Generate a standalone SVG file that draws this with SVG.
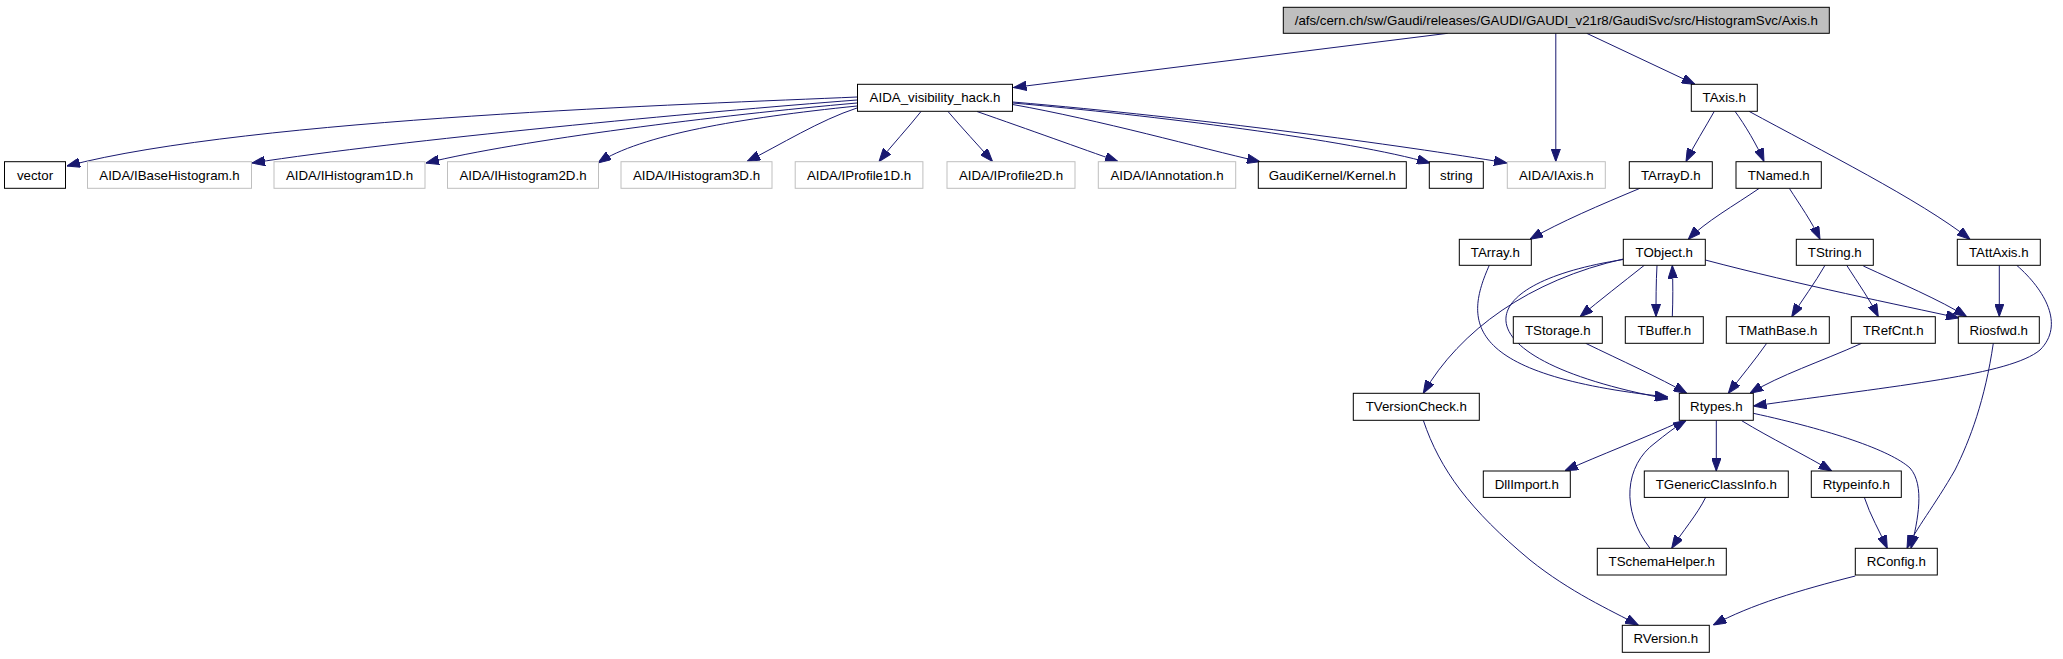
<svg xmlns="http://www.w3.org/2000/svg" width="2063" height="659" viewBox="0 0 2063 659">
<style>
  rect{fill:#ffffff;stroke:#000000;stroke-width:1}
  .u rect{stroke:#bfbfbf}
  .root rect{fill:#bfbfbf}
  text{font-family:"Liberation Sans",Arial,sans-serif;font-size:13.3px;fill:#000000;text-anchor:middle}
  #edges path{fill:none;stroke:#191970;stroke-width:1;marker-end:url(#ah)}
</style>
<defs>
  <marker id="ah" markerUnits="userSpaceOnUse" markerWidth="13" markerHeight="9.5" viewBox="0 0 13 9.5" refX="13" refY="4.75" orient="auto">
    <path d="M0,0 L13,4.75 L0,9.5 z" fill="#191970" stroke="#191970" stroke-width="1"/>
  </marker>
</defs>
<rect x="0" y="0" width="2063" height="659" style="fill:#ffffff;stroke:none"/>
<g id="edges">
  <path d="M1447.7,33.3 L1013.5,87.5"/>
  <path d="M1555.8,33.3 L1555.8,161.5"/>
  <path d="M1586.7,33.3 L1695,84.3"/>
  <path d="M857,97 C700,104 250,118 67,166"/>
  <path d="M857,100 C700,112 400,140 252,163"/>
  <path d="M857,103 C720,115 520,140 426,163"/>
  <path d="M857,106 C740,118 640,135 598,163"/>
  <path d="M857,108 C820,120 780,145 747,161.5"/>
  <path d="M921,111.5 C908,128 892,145 879,161.5"/>
  <path d="M948,111.5 C962,128 978,145 992.5,161.5"/>
  <path d="M977,111.5 C1030,130 1080,148 1118,161.5"/>
  <path d="M1012.7,104.5 C1100,120 1200,148 1260,161.7"/>
  <path d="M1012.7,103 C1150,115 1350,140 1430,163"/>
  <path d="M1012.7,102 C1200,118 1400,145 1507,163"/>
  <path d="M1714.3,111.3 C1705,128 1694,145 1686,161.5"/>
  <path d="M1735,111.3 C1745,125 1757,145 1764,161.5"/>
  <path d="M1749,111.3 C1820,150 1920,200 1970,239.3"/>
  <path d="M1640,188.3 C1600,205 1560,222 1530,239.3"/>
  <path d="M1759.3,188.3 C1735,205 1705,222 1688.3,239.3"/>
  <path d="M1789.3,188.3 C1800,205 1812,222 1820,239.3"/>
  <path d="M1644.3,265.3 C1622,283 1600,300 1580,316.7"/>
  <path d="M1657,265.3 C1656,283 1656,300 1656,316.5"/>
  <path d="M1672.3,316.7 C1673,300 1673,283 1672.3,265.5"/>
  <path d="M1705.3,260 C1800,285 1900,305 1959,318"/>
  <path d="M1623.3,259 C1530,280 1460,330 1423.3,393.3"/>
  <path d="M1623.3,259.5 C1460,285 1460,360 1668,399"/>
  <path d="M1489.3,265.3 C1465,320 1460,375 1668,397"/>
  <path d="M1825,265.3 C1815,283 1802,300 1791.7,316.7"/>
  <path d="M1846.7,265.3 C1858,283 1870,300 1878.3,316.7"/>
  <path d="M1863.3,266 C1900,283 1940,300 1966.7,316.7"/>
  <path d="M1999.3,265.3 L1999.3,316.5"/>
  <path d="M2016.7,265.3 C2045,290 2065,325 2040,350 C2010,375 1900,385 1753.5,406"/>
  <path d="M1585.7,343.3 C1620,360 1660,378 1686.7,393.3"/>
  <path d="M1766.7,343.3 C1755,360 1740,378 1728.3,393.3"/>
  <path d="M1861.7,343.3 C1820,362 1780,375 1750,393.3"/>
  <path d="M1993.3,343.3 C1985,400 1970,440 1955,470 C1935,505 1915,530 1907,548.3"/>
  <path d="M1753.3,413.3 C1830,430 1890,450 1910,468 C1925,485 1918,520 1911,548.3"/>
  <path d="M1864.3,497.3 C1870,515 1880,532 1887.3,548.3"/>
  <path d="M1741.7,420.7 C1770,438 1805,455 1831.7,471"/>
  <path d="M1716.3,420.3 L1716.3,471"/>
  <path d="M1683.3,420.3 C1640,440 1600,455 1565,470.7"/>
  <path d="M1650,548.3 C1620,510 1625,465 1655,443 C1665,435 1675,427 1686,420.5"/>
  <path d="M1705.7,497.3 C1697,515 1682,532 1671.7,548.3"/>
  <path d="M1423.3,420.3 C1440,470 1470,510 1530,560 C1570,592 1610,610 1638.3,625"/>
  <path d="M1855.3,576 C1800,590 1750,605 1713.3,625"/>
</g>
<g id="n_root" class="root"><rect x="1283.3" y="7.3" width="546" height="26"/><text x="1556.3" y="24.8">/afs/cern.ch/sw/Gaudi/releases/GAUDI/GAUDI_v21r8/GaudiSvc/src/HistogramSvc/Axis.h</text></g>
<g id="n_aida_vis"><rect x="857.5" y="84.3" width="155" height="27"/><text x="935" y="102.3">AIDA_visibility_hack.h</text></g>
<g id="n_taxis"><rect x="1691.3" y="84.3" width="66" height="27"/><text x="1724.3" y="102.3">TAxis.h</text></g>
<g id="n_vector"><rect x="4.5" y="161.7" width="61" height="26.6"/><text x="35" y="179.5">vector</text></g>
<g id="n_ibase" class="u"><rect x="87.5" y="161.7" width="164" height="26.6"/><text x="169.5" y="179.5">AIDA/IBaseHistogram.h</text></g>
<g id="n_ih1" class="u"><rect x="274" y="161.7" width="151" height="26.6"/><text x="349.5" y="179.5">AIDA/IHistogram1D.h</text></g>
<g id="n_ih2" class="u"><rect x="447.5" y="161.7" width="151" height="26.6"/><text x="523" y="179.5">AIDA/IHistogram2D.h</text></g>
<g id="n_ih3" class="u"><rect x="621" y="161.7" width="151" height="26.6"/><text x="696.5" y="179.5">AIDA/IHistogram3D.h</text></g>
<g id="n_ip1" class="u"><rect x="795.2" y="161.7" width="127.7" height="26.6"/><text x="859" y="179.5">AIDA/IProfile1D.h</text></g>
<g id="n_ip2" class="u"><rect x="947" y="161.7" width="128" height="26.6"/><text x="1011" y="179.5">AIDA/IProfile2D.h</text></g>
<g id="n_iann" class="u"><rect x="1098.3" y="161.7" width="137.4" height="26.6"/><text x="1167" y="179.5">AIDA/IAnnotation.h</text></g>
<g id="n_kernel"><rect x="1258.3" y="161.7" width="148" height="26.6"/><text x="1332.3" y="179.5">GaudiKernel/Kernel.h</text></g>
<g id="n_string"><rect x="1429.3" y="161.7" width="54" height="26.6"/><text x="1456.3" y="179.5">string</text></g>
<g id="n_iaxis" class="u"><rect x="1507.3" y="161.7" width="98" height="26.6"/><text x="1556.3" y="179.5">AIDA/IAxis.h</text></g>
<g id="n_tarrayd"><rect x="1629.3" y="161.7" width="83" height="26.6"/><text x="1670.8" y="179.5">TArrayD.h</text></g>
<g id="n_tnamed"><rect x="1736" y="161.7" width="85.3" height="26.6"/><text x="1778.7" y="179.5">TNamed.h</text></g>
<g id="n_tarray"><rect x="1459.3" y="239.3" width="72" height="26"/><text x="1495.3" y="256.8">TArray.h</text></g>
<g id="n_tobject"><rect x="1623.3" y="239.3" width="82" height="26"/><text x="1664.3" y="256.8">TObject.h</text></g>
<g id="n_tstring"><rect x="1796.3" y="239.3" width="77" height="26"/><text x="1834.8" y="256.8">TString.h</text></g>
<g id="n_tattaxis"><rect x="1957.3" y="239.3" width="83" height="26"/><text x="1998.8" y="256.8">TAttAxis.h</text></g>
<g id="n_tstorage"><rect x="1513.3" y="316.7" width="89" height="26.6"/><text x="1557.8" y="334.5">TStorage.h</text></g>
<g id="n_tbuffer"><rect x="1625.3" y="316.7" width="78" height="26.6"/><text x="1664.3" y="334.5">TBuffer.h</text></g>
<g id="n_tmathbase"><rect x="1726.3" y="316.7" width="103" height="26.6"/><text x="1777.8" y="334.5">TMathBase.h</text></g>
<g id="n_trefcnt"><rect x="1851.3" y="316.7" width="84" height="26.6"/><text x="1893.3" y="334.5">TRefCnt.h</text></g>
<g id="n_riosfwd"><rect x="1958.3" y="316.7" width="81" height="26.6"/><text x="1998.8" y="334.5">Riosfwd.h</text></g>
<g id="n_tversioncheck"><rect x="1353.3" y="393.3" width="126" height="27"/><text x="1416.3" y="411.3">TVersionCheck.h</text></g>
<g id="n_rtypes"><rect x="1679.3" y="393.3" width="74" height="27"/><text x="1716.3" y="411.3">Rtypes.h</text></g>
<g id="n_dllimport"><rect x="1483.3" y="471" width="87" height="26.4"/><text x="1526.8" y="488.7">DllImport.h</text></g>
<g id="n_tgeneric"><rect x="1644.3" y="471" width="144" height="26.4"/><text x="1716.3" y="488.7">TGenericClassInfo.h</text></g>
<g id="n_rtypeinfo"><rect x="1811.3" y="471" width="90" height="26.4"/><text x="1856.3" y="488.7">Rtypeinfo.h</text></g>
<g id="n_tschema"><rect x="1597.3" y="548.3" width="129" height="26.7"/><text x="1661.8" y="566.1">TSchemaHelper.h</text></g>
<g id="n_rconfig"><rect x="1855.3" y="548.3" width="82" height="26.7"/><text x="1896.3" y="566.1">RConfig.h</text></g>
<g id="n_rversion"><rect x="1622.3" y="625.3" width="87" height="27"/><text x="1665.8" y="643.3">RVersion.h</text></g>
</svg>
